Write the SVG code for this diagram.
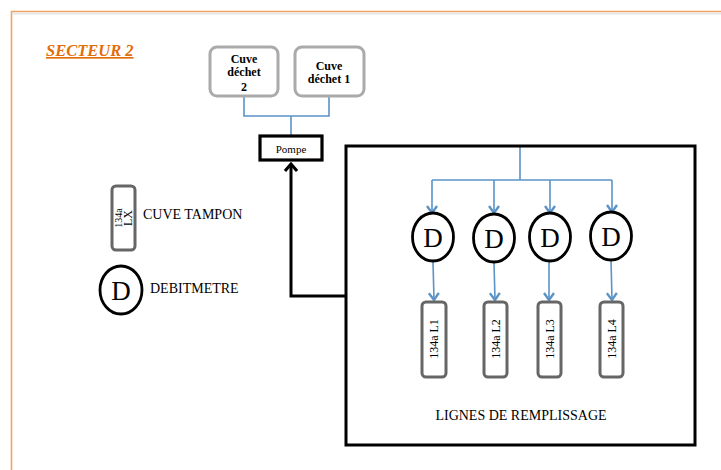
<svg xmlns="http://www.w3.org/2000/svg" width="721" height="470" viewBox="0 0 721 470">
<defs>
<style>
.serif{font-family:"Liberation Serif","Times New Roman",serif;fill:#000}
.blue{stroke:#5B93C7;stroke-width:1.6;fill:none}
.tank{fill:#fff;stroke:#aaaaaa;stroke-width:3}
.line{fill:#fff;stroke:#666;stroke-width:3}
.deb{fill:#fff;stroke:#000;stroke-width:2.8}
</style>
<marker id="ab" viewBox="0 0 12 12" refX="10" refY="6" markerWidth="12" markerHeight="12" markerUnits="userSpaceOnUse" orient="auto">
<path d="M3,1 L10,6 L3,11" fill="none" stroke="#5B93C7" stroke-width="2.4"/>
</marker>
<marker id="ak" viewBox="0 0 14 12" refX="7" refY="2" markerWidth="14" markerHeight="12" markerUnits="userSpaceOnUse" orient="0">
<path d="M1,9 L7,2 L13,9" fill="none" stroke="#000" stroke-width="3"/>
</marker>
</defs>
<rect width="721" height="470" fill="#fff"/>
<g id="page-border">
<line x1="11" y1="11.5" x2="721" y2="11.5" stroke="#F4A460" stroke-width="1.6"/>
<line x1="11.5" y1="11" x2="11.5" y2="470" stroke="#F4A460" stroke-width="1.6"/>
<line x1="12" y1="13.5" x2="721" y2="13.5" stroke="#e6e6e6" stroke-width="2"/>
</g>
<g id="title">
<text x="46" y="56" font-family="Liberation Serif,serif" font-weight="bold" font-style="italic" font-size="16.5" fill="#E36C0A" text-decoration="underline">SECTEUR 2</text>
</g>
<g id="connectors">
<polyline class="blue" points="244,96 244,116 329,116 329,96"/>
<line class="blue" x1="291" y1="116" x2="291" y2="136"/>
<polyline points="346,296 291,296 291,164" fill="none" stroke="#000" stroke-width="3" marker-end="url(#ak)"/>
<line class="blue" x1="520" y1="147" x2="520" y2="180"/>
<line class="blue" x1="432" y1="180" x2="612" y2="180"/>
<line class="blue" x1="432" y1="180" x2="432" y2="213" marker-end="url(#ab)"/>
<line class="blue" x1="494" y1="180" x2="494" y2="213" marker-end="url(#ab)"/>
<line class="blue" x1="550" y1="180" x2="550" y2="213" marker-end="url(#ab)"/>
<line class="blue" x1="612" y1="180" x2="612" y2="212" marker-end="url(#ab)"/>
<line class="blue" x1="433" y1="262" x2="434" y2="300" marker-end="url(#ab)"/>
<line class="blue" x1="494" y1="263" x2="495" y2="300" marker-end="url(#ab)"/>
<line class="blue" x1="549" y1="262" x2="549" y2="300" marker-end="url(#ab)"/>
<line class="blue" x1="611" y1="260" x2="612" y2="300" marker-end="url(#ab)"/>
</g>
<g id="cuve-dechet-2">
<rect class="tank" x="210" y="47" width="68" height="49" rx="7"/>
<text class="serif" font-weight="bold" font-size="12" text-anchor="middle"><tspan x="244" y="63">Cuve</tspan><tspan x="244" y="76">déchet</tspan><tspan x="244" y="91">2</tspan></text>
</g>
<g id="cuve-dechet-1">
<rect class="tank" x="295" y="47" width="69" height="49" rx="7"/>
<text class="serif" font-weight="bold" font-size="12" text-anchor="middle"><tspan x="329" y="70">Cuve</tspan><tspan x="329" y="83">déchet 1</tspan></text>
</g>
<g id="pompe">
<rect x="260" y="136" width="62" height="24" fill="#fff" stroke="#000" stroke-width="3.2"/>
<text class="serif" x="291" y="153" font-size="11" text-anchor="middle">Pompe</text>
</g>
<g id="lignes-remplissage">
<rect x="346" y="146" width="349" height="299" fill="none" stroke="#000" stroke-width="3"/>
<text class="serif" x="521" y="420" font-size="14" text-anchor="middle">LIGNES DE REMPLISSAGE</text>
</g>
<g id="debitmetre-1"><ellipse class="deb" cx="433" cy="237" rx="20.5" ry="24"/><text class="serif" x="433" y="247" font-size="27" text-anchor="middle">D</text></g>
<g id="debitmetre-2"><ellipse class="deb" cx="494" cy="238" rx="20.5" ry="24"/><text class="serif" x="494" y="248" font-size="27" text-anchor="middle">D</text></g>
<g id="debitmetre-3"><ellipse class="deb" cx="550" cy="237" rx="20.5" ry="24"/><text class="serif" x="550" y="247" font-size="27" text-anchor="middle">D</text></g>
<g id="debitmetre-4"><ellipse class="deb" cx="611" cy="236" rx="20.5" ry="24"/><text class="serif" x="611" y="246" font-size="27" text-anchor="middle">D</text></g>
<g id="ligne-L1"><rect class="line" x="422" y="302" width="24" height="75" rx="4"/><text class="serif" font-size="12" text-anchor="middle" transform="translate(438,339) rotate(-90)">134a L1</text></g>
<g id="ligne-L2"><rect class="line" x="484" y="302" width="23" height="75" rx="4"/><text class="serif" font-size="12" text-anchor="middle" transform="translate(499.5,339) rotate(-90)">134a L2</text></g>
<g id="ligne-L3"><rect class="line" x="538" y="302" width="23" height="75" rx="4"/><text class="serif" font-size="12" text-anchor="middle" transform="translate(553.5,339) rotate(-90)">134a L3</text></g>
<g id="ligne-L4"><rect class="line" x="600" y="302" width="23" height="75" rx="4"/><text class="serif" font-size="12" text-anchor="middle" transform="translate(615.5,339) rotate(-90)">134a L4</text></g>
<g id="legend-cuve-tampon">
<rect class="line" x="112" y="186" width="23" height="64" rx="4"/>
<text class="serif" font-size="10" text-anchor="middle" transform="translate(122,218) rotate(-90)">134a</text>
<text class="serif" font-size="12" text-anchor="middle" transform="translate(132,218) rotate(-90)">LX</text>
<text class="serif" x="143" y="219" font-size="14">CUVE TAMPON</text>
</g>
<g id="legend-debitmetre">
<ellipse class="deb" cx="121" cy="290" rx="21" ry="24"/>
<text class="serif" x="121" y="300" font-size="27" text-anchor="middle">D</text>
<text class="serif" x="150" y="293" font-size="14">DEBITMETRE</text>
</g>
</svg>
